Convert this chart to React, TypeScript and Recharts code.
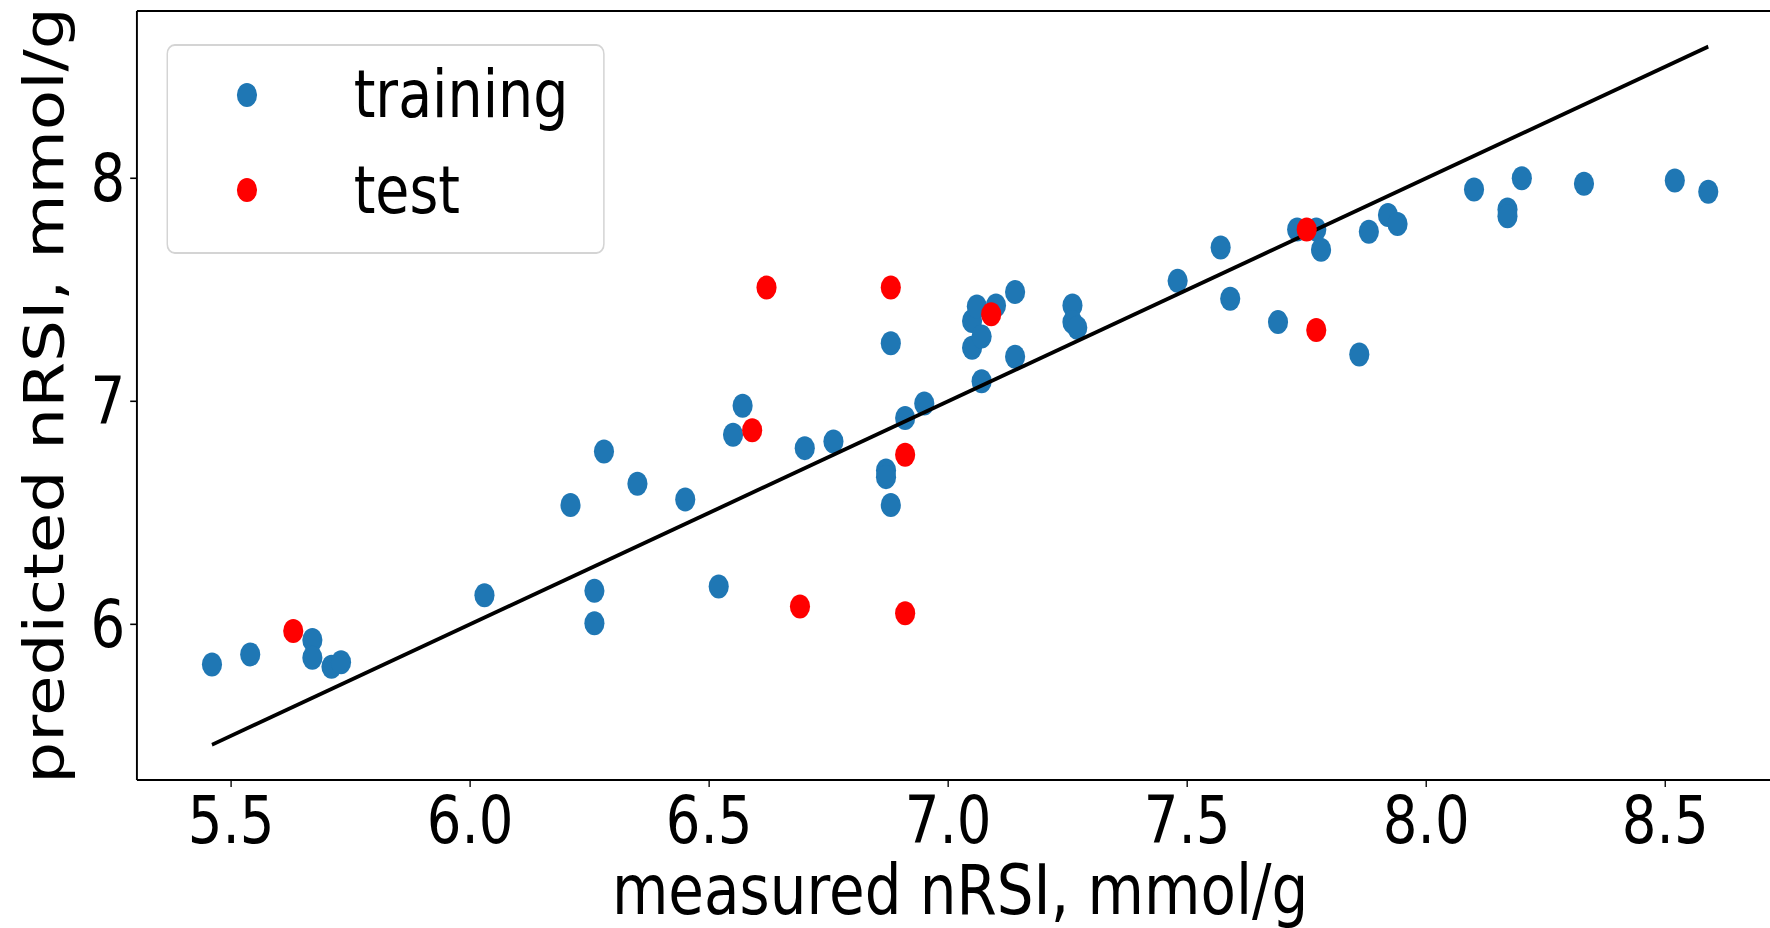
import React from "react";
import {
  ScatterChart,
  Scatter,
  XAxis,
  YAxis,
  Legend,
  ReferenceLine,
} from "recharts";

// measured vs predicted nRSI (mmol/g)
const trainMeasured = [
  5.46, 5.54, 5.67, 5.67, 5.71, 5.73, 6.03, 6.21, 6.26, 6.26, 6.28, 6.35, 6.45,
  6.52, 6.55, 6.57, 6.7, 6.76, 6.87, 6.87, 6.88, 6.88, 6.91, 6.95, 7.05, 7.05,
  7.06, 7.07, 7.07, 7.1, 7.14, 7.14, 7.26, 7.26, 7.27, 7.48, 7.57, 7.59, 7.69,
  7.73, 7.77, 7.78, 7.86, 7.88, 7.92, 7.94, 8.1, 8.17, 8.17, 8.2, 8.33, 8.52,
  8.59,
];
const trainPredicted = [
  5.82, 5.865, 5.93, 5.85, 5.81, 5.83, 6.13, 6.535, 6.15, 6.005, 6.775, 6.63,
  6.56, 6.17, 6.85, 6.98, 6.79, 6.82, 6.69, 6.66, 6.535, 7.26, 6.925, 6.99,
  7.36, 7.24, 7.425, 7.29, 7.09, 7.43, 7.49, 7.2, 7.43, 7.355, 7.33, 7.54, 7.69,
  7.46, 7.355, 7.77, 7.77, 7.68, 7.21, 7.76, 7.835, 7.795, 7.95, 7.86, 7.83, 8.0,
  7.975, 7.99, 7.94,
];
const testMeasured = [5.63, 6.59, 6.62, 6.69, 6.88, 6.91, 6.91, 7.09, 7.75, 7.77];
const testPredicted = [5.97, 6.87, 7.51, 6.08, 7.51, 6.76, 6.05, 7.39, 7.77, 7.32];
const idealEnds = [5.46, 8.59];

const legendOrder = ["training", "test"];
const xTicks = [5.5, 6.0, 6.5, 7.0, 7.5, 8.0, 8.5];
const yTicks = [6, 7, 8];
const xDomain = [5.303, 8.747];
const yDomain = [5.302, 8.75];

const training = trainMeasured.map((x, i) => ({ x, y: trainPredicted[i] }));
const test = testMeasured.map((x, i) => ({ x, y: testPredicted[i] }));
const ideal = idealEnds.map((v) => ({ x: v, y: v }));

const FONT = "DejaVu Sans";
const SQUEEZE = 0.84;

const dot = (color: string) => (props: any) =>
  <circle cx={props.cx} cy={props.cy} r={12} fill={color} />;

const renderLegend = (props: any) => {
  const items = (props.payload || [])
    .filter((p: any) => p.type !== "none")
    .sort((a: any, b: any) => legendOrder.indexOf(a.value) - legendOrder.indexOf(b.value));
  return (
    <svg width={522} height={210} style={{ display: "block" }}>
      <rect
        x={1}
        y={1}
        width={520}
        height={208}
        rx={9}
        ry={9}
        fill="rgba(255,255,255,0.8)"
        stroke="#d4d4d4"
        strokeWidth={2}
      />
      {items.map((it: any, i: number) => (
        <g key={it.value}>
          <circle cx={96} cy={51 + i * 95} r={12} fill={it.color} />
          <text x={223} y={73 + i * 96.5} fontSize={66} fontFamily={FONT} fill="#000">
            {it.value}
          </text>
        </g>
      ))}
    </svg>
  );
};

const YTitle = (props: any) => {
  const vb = props.viewBox || { y: 11, height: 769 };
  const cy = vb.y + vb.height / 2;
  return (
    <text
      x={75}
      y={cy}
      transform={`rotate(-90, 75, ${cy})`}
      textAnchor="middle"
      fontSize={66}
      fontFamily={FONT}
      fill="#000"
    >
      predicted nRSI, mmol/g
    </text>
  );
};

export default function App() {
  return (
    <div
      style={{
        position: "absolute",
        left: 0,
        top: 0,
        width: 1770,
        height: 928,
        overflow: "hidden",
        background: "#fff",
        fontFamily: FONT,
      }}
    >
      <div style={{ transform: `scaleX(${SQUEEZE})`, transformOrigin: "0 0", width: 2123 }}>
        <ScatterChart
          width={2123}
          height={928}
          margin={{ top: 11, right: 0, bottom: 0, left: 0 }}
        >
          <XAxis
            type="number"
            dataKey="x"
            domain={xDomain}
            ticks={xTicks}
            allowDataOverflow
            tickFormatter={(v: number) => v.toFixed(1)}
            height={148}
            tickSize={7}
            tickMargin={10}
            axisLine={{ stroke: "#000", strokeWidth: 2 }}
            tickLine={{ stroke: "#000", strokeWidth: 1.6 }}
            tick={{ fontSize: 65, fill: "#000", fontFamily: FONT }}
            label={{
              value: "measured nRSI, mmol/g",
              position: "insideBottom",
              offset: 14,
              fontSize: 69,
              fill: "#000",
              fontFamily: FONT,
            }}
          />
          <YAxis
            type="number"
            dataKey="y"
            domain={yDomain}
            ticks={yTicks}
            allowDataOverflow
            width={163}
            tickSize={8}
            tickMargin={6}
            axisLine={{ stroke: "#000", strokeWidth: 2.3 }}
            tickLine={{ stroke: "#000", strokeWidth: 1.6 }}
            tick={{ fontSize: 65, fill: "#000", fontFamily: FONT }}
            label={<YTitle />}
          />
          <ReferenceLine y={yDomain[1]} stroke="#000" strokeWidth={2} />
          <Scatter
            name="training"
            data={training}
            fill="#1f77b4"
            shape={dot("#1f77b4")}
            isAnimationActive={false}
          />
          <Scatter
            name="ideal"
            data={ideal}
            fill="#000"
            line={{ stroke: "#000", strokeWidth: 4 }}
            shape={() => <g />}
            legendType="none"
            isAnimationActive={false}
          />
          <Scatter
            name="test"
            data={test}
            fill="#ff0000"
            shape={dot("#ff0000")}
            isAnimationActive={false}
          />
          <Legend
            layout="vertical"
            align="center"
            verticalAlign="middle"
            content={renderLegend}
            wrapperStyle={{ left: 198, top: 44, width: 522, height: 210 }}
          />
        </ScatterChart>
      </div>
    </div>
  );
}
